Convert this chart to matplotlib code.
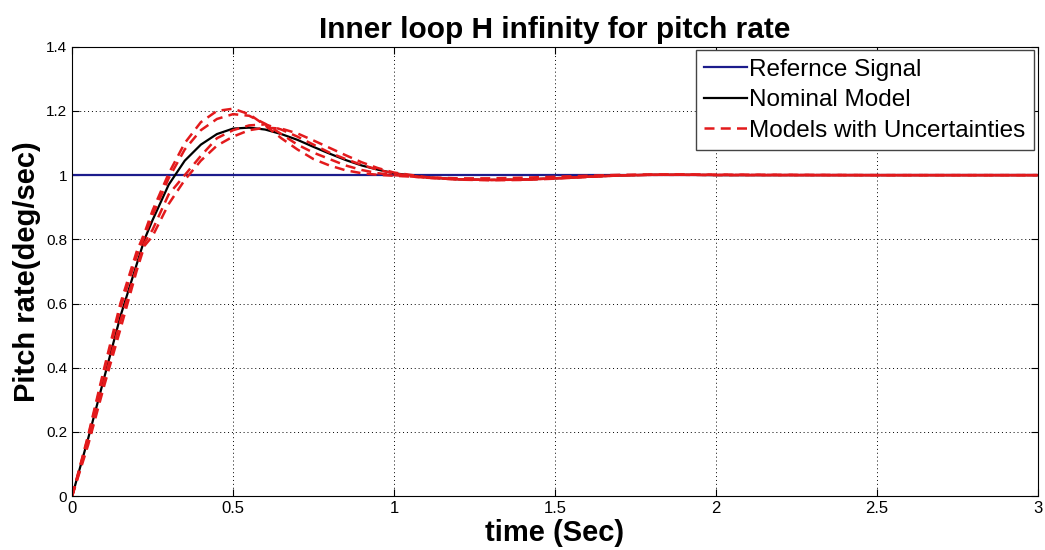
#Step response plot: inner loop H infinity for pitch rate

import numpy as np
import matplotlib
matplotlib.use('Agg')
import matplotlib.pyplot as plt

# Data
t = [0, 0.05, 0.1, 0.15, 0.2, 0.225, 0.25, 0.3, 0.35, 0.4, 0.45, 0.5, 0.55, 0.6,
     0.65, 0.7, 0.75, 0.8, 0.85, 0.9, 0.95, 1.0, 1.1, 1.2, 1.3, 1.4, 1.5, 1.6,
     1.7, 1.8, 1.9, 2.0, 2.5, 3.0]

ref_t = [0, 3]
ref_y = [1, 1]

nominal = [0, 0.18, 0.37, 0.56, 0.72, 0.80, 0.86, 0.97, 1.045, 1.095, 1.128, 1.145,
           1.148, 1.142, 1.128, 1.11, 1.088, 1.067, 1.047, 1.03, 1.017, 1.006,
           0.993, 0.987, 0.985, 0.986, 0.99, 0.995, 0.999, 1.001, 1.001, 1.0, 1.0, 1.0]

unc_a = [0, 0.19, 0.40, 0.60, 0.76, 0.82, 0.89, 1.005, 1.10, 1.165, 1.20, 1.207,
         1.19, 1.155, 1.115, 1.08, 1.05, 1.03, 1.015, 1.006, 1.001, 0.998,
         0.993, 0.99, 0.99, 0.992, 0.995, 0.998, 1.001, 1.002, 1.002, 1.001, 1.0, 1.0]

unc_b = [0, 0.185, 0.39, 0.585, 0.745, 0.81, 0.875, 0.99, 1.08, 1.14, 1.175, 1.19,
         1.185, 1.16, 1.128, 1.095, 1.07, 1.05, 1.03, 1.016, 1.006, 1.0,
         0.992, 0.987, 0.985, 0.986, 0.99, 0.995, 0.999, 1.001, 1.001, 1.001, 1.0, 1.0]

unc_c = [0, 0.17, 0.36, 0.545, 0.71, 0.79, 0.83, 0.94, 1.0, 1.06, 1.115, 1.14,
         1.155, 1.158, 1.142, 1.12, 1.095, 1.07, 1.05, 1.032, 1.017, 1.005,
         0.992, 0.986, 0.984, 0.985, 0.989, 0.994, 0.999, 1.001, 1.002, 1.001, 1.0, 1.0]

unc_d = [0, 0.16, 0.345, 0.52, 0.70, 0.78, 0.81, 0.91, 0.985, 1.045, 1.092, 1.12,
         1.14, 1.148, 1.145, 1.13, 1.108, 1.085, 1.062, 1.04, 1.022, 1.008,
         0.994, 0.987, 0.985, 0.986, 0.99, 0.995, 0.999, 1.001, 1.001, 1.0, 1.0, 1.0]

uncertain = [unc_a, unc_b, unc_c, unc_d]

plt.rcParams['font.family'] = ['Liberation Sans', 'DejaVu Sans']

fig = plt.figure(figsize=(10.45, 5.5), dpi=100)
ax = fig.add_axes([0.069, 0.098, 0.924, 0.817])

ax.plot(ref_t, ref_y, color='#1c1c8c', lw=1.6, label='Refernce Signal')
ax.plot(t, nominal, color='black', lw=1.6, label='Nominal Model')
for i, u in enumerate(uncertain):
    ax.plot(t, u, color='#e31a1c', lw=1.8, ls=(0, (4, 2.5)),
            label='Models with Uncertainties' if i == 0 else None)

ax.set_xlim(0, 3)
ax.set_ylim(0, 1.4)
ax.set_xticks([0, 0.5, 1, 1.5, 2, 2.5, 3])
ax.set_xticklabels(['0', '0.5', '1', '1.5', '2', '2.5', '3'], fontsize=12)
ax.set_yticks([0, 0.2, 0.4, 0.6, 0.8, 1, 1.2, 1.4])
ax.set_yticklabels(['0', '0.2', '0.4', '0.6', '0.8', '1', '1.2', '1.4'], fontsize=11)
ax.tick_params(direction='in', top=True, right=True, length=5)
ax.grid(True, color='black', ls=(0, (1, 3)), lw=0.7)

ax.set_title('Inner loop H infinity for pitch rate', fontsize=21.5, fontweight='bold', pad=6)
ax.set_xlabel('time (Sec)', fontsize=21, fontweight='bold', labelpad=2)
ax.set_ylabel('Pitch rate(deg/sec)', fontsize=21, fontweight='bold', labelpad=4)

leg = ax.legend(loc='upper right', fontsize=17.5, handlelength=1.75, handletextpad=0.1,
                labelspacing=0.35, borderpad=0.35, fancybox=False, framealpha=1,
                borderaxespad=0.15)
leg.get_frame().set_edgecolor('#444444')
leg.get_frame().set_linewidth(1.0)

plt.savefig('out.png', dpi=100)
